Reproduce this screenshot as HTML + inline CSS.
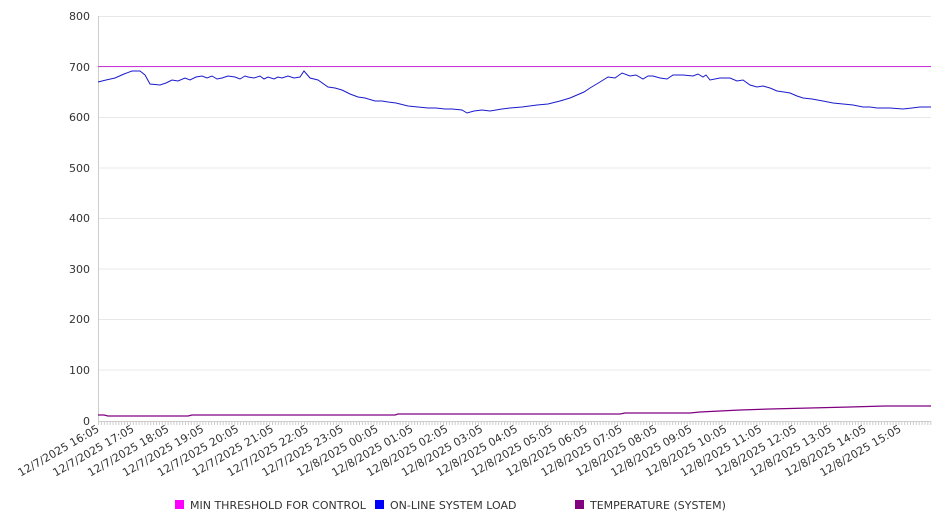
<!DOCTYPE html>
<html><head><meta charset="utf-8"><style>
html,body{margin:0;padding:0;background:#fff;}
svg{display:block;font-family:"DejaVu Sans","Liberation Sans",sans-serif;}
</style></head><body>
<svg width="946" height="526" viewBox="0 0 946 526">
<g stroke="#e8e8e8" stroke-width="1">
<line x1="98" y1="16.5" x2="931" y2="16.5"/>
<line x1="98" y1="67" x2="931" y2="67"/>
<line x1="98" y1="117.5" x2="931" y2="117.5"/>
<line x1="98" y1="168" x2="931" y2="168"/>
<line x1="98" y1="218.5" x2="931" y2="218.5"/>
<line x1="98" y1="269" x2="931" y2="269"/>
<line x1="98" y1="319.5" x2="931" y2="319.5"/>
<line x1="98" y1="370" x2="931" y2="370"/>
</g>
<line x1="98.5" y1="16" x2="98.5" y2="421" stroke="#ccc"/>
<line x1="98" y1="421.5" x2="931" y2="421.5" stroke="#ccc"/>
<g stroke="#ccc"><script>/* none */</script></g>
<g id="ticks" stroke="#ccc" stroke-width="1"></g>
<g font-size="11" fill="#333" text-anchor="end">
<text x="90" y="20">800</text><text x="90" y="71">700</text><text x="90" y="121">600</text>
<text x="90" y="172">500</text><text x="90" y="222">400</text><text x="90" y="273">300</text>
<text x="90" y="323">200</text><text x="90" y="374">100</text><text x="90" y="425">0</text>
</g>
<line x1="98" y1="66.5" x2="931" y2="66.5" stroke="#cc33dd" stroke-width="1"/>
<polyline fill="none" stroke="#1a1acc" stroke-width="1" points="98,82 106,80 115,78 124,74 132,71 140,71 145,75 150,84 160,85 166,83 172,80 178,81 185,78 190,80 196,77 202,76 207,78 212,76 217,79 222,78 228,76 235,77 240,79 245,76 248,77 254,78 260,76 264,79 268,77 274,79 278,77 282,78 288,76 294,78 300,77 304,71 310,78 318,80 328,87 335,88 342,90 350,94 358,97 365,98 375,101 382,101 388,102 396,103 408,106 418,107 428,108 436,108 445,109 452,109 462,110 467,113 474,111 482,110 490,111 502,109 510,108 522,107 537,105 548,104 560,101 570,98 577,95 584,92 590,88 600,82 608,77 615,78 622,73 630,76 636,75 643,79 648,76 653,76 660,78 667,79 673,75 683,75 693,76 698,74 703,77 706,75 710,80 720,78 730,78 737,81 743,80 750,85 757,87 763,86 770,88 777,91 784,92 790,93 797,96 803,98 812,99 823,101 833,103 843,104 853,105 863,107 870,107 877,108 890,108 903,109 912,108 920,107 931,107"/>
<polyline fill="none" stroke="#800080" stroke-width="1.2" points="98,415 104,415 108,416 188,416 192,415 395,415 398,414 620,414 625,413 690,413 700,412 720,411 740,410 770,409 810,408 850,407 885,406 931,406"/>
<g font-size="11" fill="#333" text-anchor="end" id="xl">
</g>
<g font-size="11" fill="#333">
<rect x="175" y="500" width="9" height="9" fill="#ff00ff"/><text x="190" y="509">MIN THRESHOLD FOR CONTROL</text>
<rect x="375" y="500" width="9" height="9" fill="#0000ff"/><text x="390" y="509">ON-LINE SYSTEM LOAD</text>
<rect x="575" y="500" width="9" height="9" fill="#800080"/><text x="590" y="509">TEMPERATURE (SYSTEM)</text>
</g>
<script>
var ns="http://www.w3.org/2000/svg";
var t=document.getElementById("ticks");
for(var x=98.5;x<=931;x+=2.9){var l=document.createElementNS(ns,"line");l.setAttribute("x1",x);l.setAttribute("x2",x);l.setAttribute("y1",421);l.setAttribute("y2",425);t.appendChild(l);}
var g=document.getElementById("xl");
var labs=[];for(var i=0;i<24;i++){var h=(16+i)%24;var d=(16+i)>=24?"12/8/2025 ":"12/7/2025 ";labs.push(d+(h<10?"0"+h:h)+":05");}
labs.forEach(function(s,i){var x=100+i*34.87,y=431;var e=document.createElementNS(ns,"text");e.setAttribute("x",x);e.setAttribute("y",y);e.setAttribute("transform","rotate(-30 "+x+" "+y+")");e.textContent=s;g.appendChild(e);});
</script>
</svg>
</body></html>
